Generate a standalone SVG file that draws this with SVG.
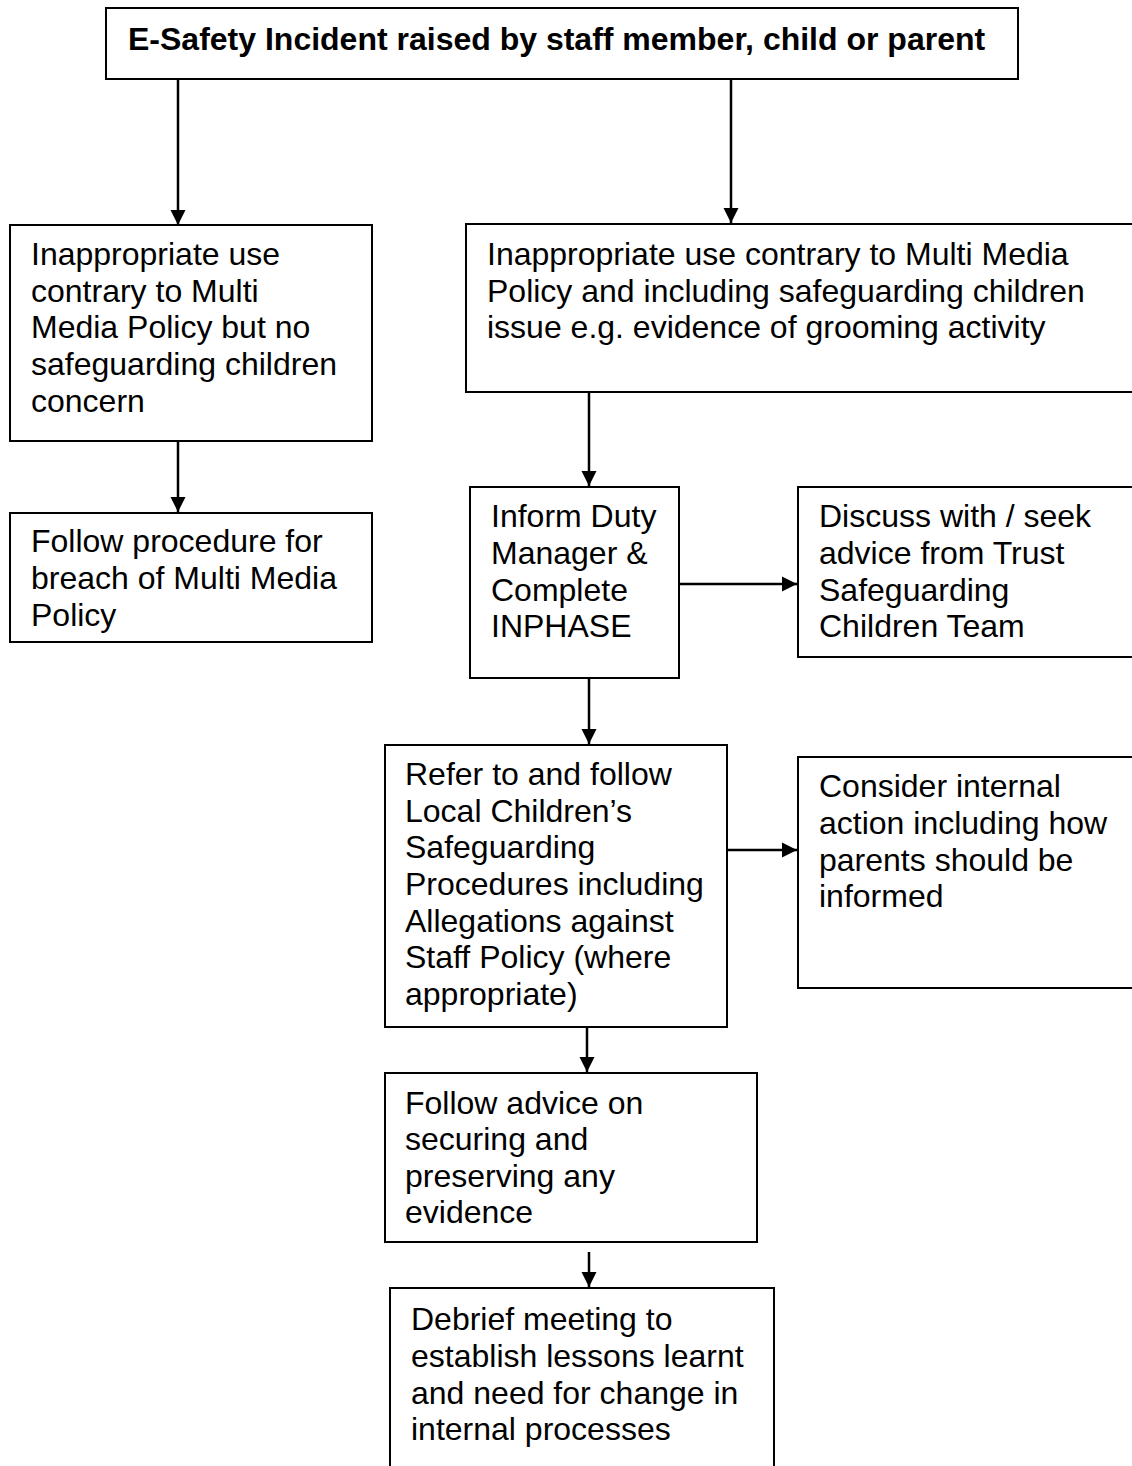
<svg xmlns="http://www.w3.org/2000/svg" width="1132" height="1466" viewBox="0 0 1132 1466">
  <style>
    .box { fill: #ffffff; stroke: #000000; stroke-width: 2; }
    .lbl { font-family: "Liberation Sans", Arial, sans-serif; font-size: 32px; fill: #000000; }
    .title { font-weight: bold; }
    .conn { stroke: #000000; stroke-width: 2.5; fill: none; marker-end: url(#arrow); }
  </style>
  <defs>
    <marker id="arrow" markerUnits="userSpaceOnUse" markerWidth="16" markerHeight="16" refX="15" refY="8" orient="auto">
      <path d="M0,0.5 L15,8 L0,15.5 Z" fill="#000000"/>
    </marker>
  </defs>
  <rect width="1132" height="1466" fill="#ffffff"/>

  <g id="connectors">
    <line class="conn" x1="178" y1="79" x2="178" y2="225"/>
    <line class="conn" x1="731" y1="79" x2="731" y2="223"/>
    <line class="conn" x1="178" y1="441" x2="178" y2="512"/>
    <line class="conn" x1="589" y1="392" x2="589" y2="486"/>
    <line class="conn" x1="679" y1="584" x2="797" y2="584"/>
    <line class="conn" x1="589" y1="678" x2="589" y2="744"/>
    <line class="conn" x1="727" y1="850" x2="797" y2="850"/>
    <line class="conn" x1="587" y1="1027" x2="587" y2="1072"/>
    <line class="conn" x1="589" y1="1252" x2="589" y2="1287"/>
  </g>

  <g id="incident">
    <rect class="box" x="106" y="8" width="912" height="71"/>
    <text class="lbl title" x="128" y="50">E-Safety Incident raised by staff member, child or parent</text>
  </g>

  <g id="no-safeguarding">
    <rect class="box" x="10" y="225" width="362" height="216"/>
    <text class="lbl" x="31" y="265">Inappropriate use</text>
    <text class="lbl" x="31" y="302">contrary to Multi</text>
    <text class="lbl" x="31" y="338">Media Policy but no</text>
    <text class="lbl" x="31" y="375">safeguarding children</text>
    <text class="lbl" x="31" y="412">concern</text>
  </g>

  <g id="breach-procedure">
    <rect class="box" x="10" y="513" width="362" height="129"/>
    <text class="lbl" x="31" y="552">Follow procedure for</text>
    <text class="lbl" x="31" y="589">breach of Multi Media</text>
    <text class="lbl" x="31" y="626">Policy</text>
  </g>

  <g id="safeguarding-issue">
    <rect class="box" x="466" y="224" width="680" height="168"/>
    <text class="lbl" x="487" y="265">Inappropriate use contrary to Multi Media</text>
    <text class="lbl" x="487" y="302">Policy and including safeguarding children</text>
    <text class="lbl" x="487" y="338">issue e.g. evidence of grooming activity</text>
  </g>

  <g id="inform-duty-manager">
    <rect class="box" x="470" y="487" width="209" height="191"/>
    <text class="lbl" x="491" y="527">Inform Duty</text>
    <text class="lbl" x="491" y="564">Manager &amp;</text>
    <text class="lbl" x="491" y="601">Complete</text>
    <text class="lbl" x="491" y="637">INPHASE</text>
  </g>

  <g id="trust-advice">
    <rect class="box" x="798" y="487" width="348" height="170"/>
    <text class="lbl" x="819" y="527">Discuss with / seek</text>
    <text class="lbl" x="819" y="564">advice from Trust</text>
    <text class="lbl" x="819" y="601">Safeguarding</text>
    <text class="lbl" x="819" y="637">Children Team</text>
  </g>

  <g id="local-procedures">
    <rect class="box" x="385" y="745" width="342" height="282"/>
    <text class="lbl" x="405" y="785">Refer to and follow</text>
    <text class="lbl" x="405" y="822">Local Children’s</text>
    <text class="lbl" x="405" y="858">Safeguarding</text>
    <text class="lbl" x="405" y="895">Procedures including</text>
    <text class="lbl" x="405" y="932">Allegations against</text>
    <text class="lbl" x="405" y="968">Staff Policy (where</text>
    <text class="lbl" x="405" y="1005">appropriate)</text>
  </g>

  <g id="internal-action">
    <rect class="box" x="798" y="757" width="348" height="231"/>
    <text class="lbl" x="819" y="797">Consider internal</text>
    <text class="lbl" x="819" y="834">action including how</text>
    <text class="lbl" x="819" y="871">parents should be</text>
    <text class="lbl" x="819" y="907">informed</text>
  </g>

  <g id="evidence">
    <rect class="box" x="385" y="1073" width="372" height="169"/>
    <text class="lbl" x="405" y="1114">Follow advice on</text>
    <text class="lbl" x="405" y="1150">securing and</text>
    <text class="lbl" x="405" y="1187">preserving any</text>
    <text class="lbl" x="405" y="1223">evidence</text>
  </g>

  <g id="debrief">
    <rect class="box" x="390" y="1288" width="384" height="190"/>
    <text class="lbl" x="411" y="1330">Debrief meeting to</text>
    <text class="lbl" x="411" y="1367">establish lessons learnt</text>
    <text class="lbl" x="411" y="1404">and need for change in</text>
    <text class="lbl" x="411" y="1440">internal processes</text>
  </g>
</svg>
